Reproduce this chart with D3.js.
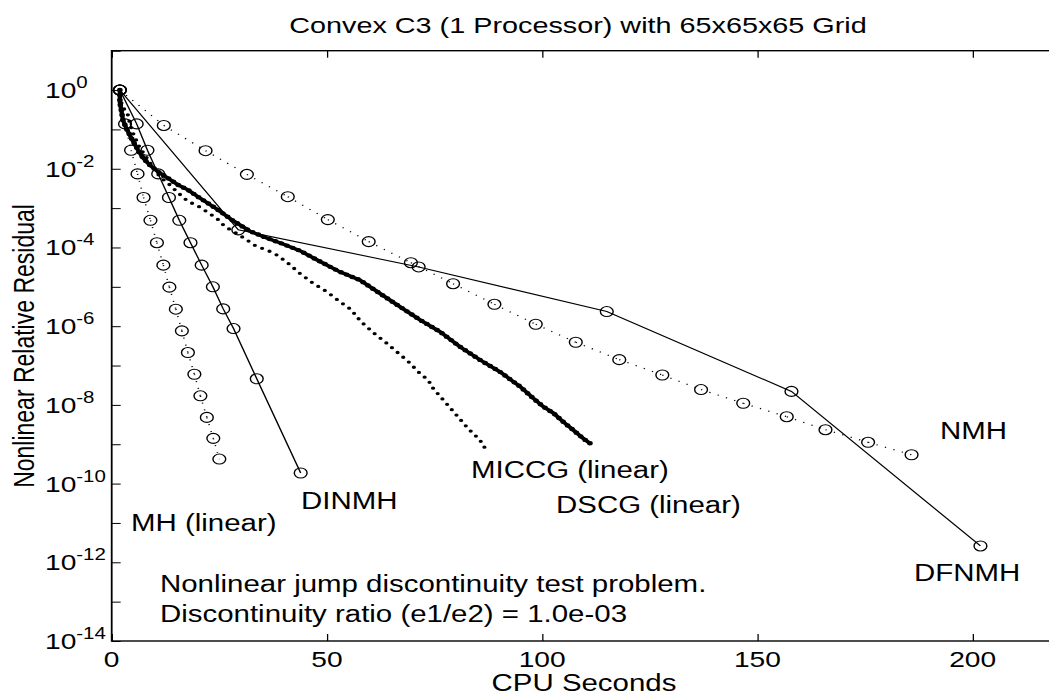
<!DOCTYPE html>
<html lang="en">
<head>
<meta charset="utf-8">
<style>
  body { margin: 0; background: white; }
  svg { display: block; background: white; }
  text { font-family: "Liberation Sans", Arial, Helvetica, sans-serif; fill: black; }
  .frame { fill: none; stroke: black; stroke-width: 1.4px; }
  .tick line { stroke: black; stroke-width: 1px; }
  .mark { fill: none; stroke: black; stroke-width: 1.1px; }
</style>
<script src="https://d3js.org/d3.v7.min.js"></script>
</head>
<body>
<script>
// CPU seconds vs nonlinear relative residual, one pair of arrays per solver
var mhTime  = [1.9, 3.1, 4.5, 6.0, 7.4, 9.0, 10.5, 12.0, 13.4, 14.9, 16.3, 17.7, 19.2, 20.6, 22.1, 23.6, 25.0];
var mhResid = [1, 1.38e-1, 2.95e-2, 7.4e-3, 1.86e-3, 4.9e-4, 1.32e-4, 3.55e-5, 9.8e-6, 2.7e-6, 7.6e-7, 2.14e-7, 6.0e-8, 1.7e-8, 4.8e-9, 1.41e-9, 4.2e-10];

var dinmhTime  = [1.9, 5.8, 8.3, 10.8, 13.3, 15.7, 18.3, 20.9, 23.5, 25.9, 28.3, 33.7, 43.9];
var dinmhResid = [1, 1.38e-1, 2.95e-2, 7.4e-3, 1.86e-3, 4.9e-4, 1.32e-4, 3.55e-5, 1.0e-5, 2.75e-6, 8.7e-7, 4.6e-8, 1.86e-10];

var miccgTime  = [1.9, 1.9, 2.4, 3.8, 4.2, 4.7, 5.3, 6.5, 8.0, 9.5, 11.2, 13.5, 15.5, 17.8, 19.7, 22.1, 24.4, 26.3, 29.0, 31.4, 33.7, 36.0,
                  38.3, 40.7, 43.7, 46.8, 49.9, 53.0, 55.7, 56.9, 58.4, 60.8, 63.5, 66.2, 68.9, 71.6, 73.5, 74.7, 77.4, 80.1, 82.8, 85.5, 86.9];
var miccgResid = [1, 7.1e-1, 4.0e-1, 2.3e-1, 1.45e-1, 9.5e-2, 6.5e-2, 3.5e-2, 2.0e-2, 1.12e-2, 6.3e-3, 3.9e-3, 2.4e-3, 1.45e-3, 1.2e-3, 8.1e-4, 5.5e-4, 3.4e-4, 2.3e-4, 1.55e-4, 1.05e-4, 8.7e-5,
                  6.5e-5, 4.2e-5, 2.2e-5, 1.23e-5, 7.6e-6, 4.2e-6, 2.6e-6, 1.74e-6, 1.17e-6, 6.8e-7, 4.0e-7, 2.24e-7, 1.26e-7, 6.3e-8, 4.3e-8, 2.6e-8, 1.2e-8, 5.5e-9, 2.5e-9, 1.29e-9, 7.4e-10];

var dscgTime  = [1.9, 1.9, 2.3, 2.6, 3.4, 4.2, 5.0, 6.1, 7.3, 8.8, 10.7, 13.1, 15.4, 17.7, 20.3, 24.4, 28.2, 32.1, 36.0, 39.5,
                 43.7, 48.4, 53.0, 57.7, 62.3, 67.0, 71.6, 76.3, 80.9, 85.6, 90.2, 94.9, 97.9, 100.3, 102.6, 104.9, 107.2, 109.5, 111.3];
var dscgResid = [1, 4.8e-1, 2.8e-1, 1.74e-1, 1.07e-1, 7.2e-2, 4.9e-2, 3.0e-2, 1.86e-2, 1.26e-2, 8.5e-3, 5.75e-3, 3.9e-3, 2.9e-3, 1.86e-3, 9.5e-4, 4.8e-4, 2.6e-4, 1.74e-4, 1.26e-4,
                 8.3e-5, 4.4e-5, 2.4e-5, 1.48e-5, 6.8e-6, 3.1e-6, 1.45e-6, 7.2e-7, 3.0e-7, 1.38e-7, 6.9e-8, 2.9e-8, 1.48e-8, 8.9e-9, 6.2e-9, 3.7e-9, 2.3e-9, 1.41e-9, 1.02e-9];

var nmhTime  = [1.9, 12.1, 21.8, 31.4, 40.9, 50.2, 59.7, 69.5, 79.3, 88.9, 98.5, 107.8, 117.9, 127.9, 136.9, 146.7, 156.8, 165.8, 175.7, 185.8];
var nmhResid = [1, 1.26e-1, 2.88e-2, 7.2e-3, 1.95e-3, 5.1e-4, 1.41e-4, 4.1e-5, 1.2e-5, 3.6e-6, 1.12e-6, 3.9e-7, 1.41e-7, 5.75e-8, 2.45e-8, 1.1e-8, 5.0e-9, 2.34e-9, 1.12e-9, 5.4e-10];

var dfnmhTime  = [1.9, 29.4, 71.3, 115.0, 157.9, 201.8];
var dfnmhResid = [1, 2.8e-4, 3.2e-5, 2.35e-6, 2.2e-8, 2.6e-12];

var xTicks = [0, 50, 100, 150, 200];
var yTicks = [1e1, 1e0, 1e-1, 1e-2, 1e-3, 1e-4, 1e-5, 1e-6, 1e-7, 1e-8, 1e-9, 1e-10, 1e-11, 1e-12, 1e-13, 1e-14];
var yLabelVal = [1e0, 1e-2, 1e-4, 1e-6, 1e-8, 1e-10, 1e-12, 1e-14];
var yLabelExp = ["0", "-2", "-4", "-6", "-8", "-10", "-12", "-14"];

var width = 1049,
    height = 696;
var sx = 1.28;   // the figure is stretched sideways, so draw everything in a squeezed frame

var x = d3.scaleLinear().domain([0, 220]).range([111.7 / sx, 1058.8 / sx]);
var y = d3.scaleLog().domain([1e-14, 10]).range([641, 50.7]);

var svg = d3.select("body").append("svg")
    .attr("width", width)
    .attr("height", height);

var g = svg.append("g").attr("transform", "scale(" + sx + ",1)");

// axes, ticks pointing in
function noDomain(a) { a.select(".domain").remove(); }
g.append("g").attr("transform", "translate(0," + y(1e-14) + ")")
    .call(d3.axisBottom(x).tickValues(xTicks).tickSize(-7).tickFormat("")).call(noDomain);
g.append("g").attr("transform", "translate(0," + y(10) + ")")
    .call(d3.axisTop(x).tickValues(xTicks).tickSize(-7).tickFormat("")).call(noDomain);
g.append("g").attr("transform", "translate(" + x(0) + ",0)")
    .call(d3.axisLeft(y).tickValues(yTicks).tickSize(-9 / sx).tickFormat("")).call(noDomain);
g.append("g").attr("transform", "translate(" + x(220) + ",0)")
    .call(d3.axisRight(y).tickValues(yTicks).tickSize(-9 / sx).tickFormat("")).call(noDomain);

g.append("rect").attr("class", "frame")
    .attr("x", x(0)).attr("y", y(10))
    .attr("width", x(220) - x(0))
    .attr("height", y(1e-14) - y(10));

// tick labels
g.selectAll(".xlab").data(xTicks).enter().append("text")
    .attr("class", "xlab")
    .attr("x", function(d) { return x(d); })
    .attr("y", 667)
    .attr("font-size", 22)
    .attr("text-anchor", "middle")
    .text(function(d) { return d; });

g.selectAll(".ylab").data(yLabelVal).enter().append("text")
    .attr("class", "ylab")
    .attr("x", 45 / sx)
    .attr("y", function(d) { return y(d) + 8; })
    .attr("font-size", 22)
    .each(function(d, i) {
        var t = d3.select(this);
        t.append("tspan").text("10");
        t.append("tspan").attr("font-size", 16).attr("dy", -10).text(yLabelExp[i]);
    });

function label(txt, px, py, size, anchor) {
    return g.append("text")
        .attr("x", px / sx).attr("y", py)
        .attr("font-size", size)
        .attr("text-anchor", anchor || "start")
        .text(txt);
}

label("Convex C3 (1 Processor) with 65x65x65 Grid", 578, 33, 22.5, "middle");
label("CPU Seconds", 584, 691, 23, "middle");
g.append("text")
    .attr("transform", "translate(" + (34 / sx) + ",346) rotate(-90)")
    .attr("font-size", 23)
    .attr("text-anchor", "middle")
    .text("Nonlinear Relative Residual");

label("Nonlinear jump discontinuity test problem.", 160, 592, 23);
label("Discontinuity ratio (e1/e2) = 1.0e-03", 160, 622, 23);
label("MH (linear)", 131, 531, 23);
label("DINMH", 301, 509, 23);
label("MICCG (linear)", 471, 478, 23);
label("DSCG (linear)", 556, 513, 23);
label("NMH", 940, 439, 23);
label("DFNMH", 914, 581, 23);

// series
var line = d3.line()
    .x(function(d) { return x(d[0]); })
    .y(function(d) { return y(d[1]); });

function solid(xs, ys) {
    g.append("path").datum(d3.zip(xs, ys))
        .attr("class", "mark")
        .attr("stroke-width", 1)
        .attr("d", line);
}

function dotted(xs, ys) {
    // each segment restarts the pattern so a dot sits in every marker
    g.append("g").selectAll("line")
        .data(d3.pairs(d3.zip(xs, ys)))
        .enter().append("line")
        .attr("x1", function(d) { return x(d[0][0]); })
        .attr("y1", function(d) { return y(d[0][1]); })
        .attr("x2", function(d) { return x(d[1][0]); })
        .attr("y2", function(d) { return y(d[1][1]); })
        .attr("stroke", "black")
        .attr("stroke-width", 1.2)
        .attr("stroke-dasharray", "1 6");
}

function rings(xs, ys) {
    g.append("g").selectAll("circle")
        .data(d3.zip(xs, ys))
        .enter().append("circle")
        .attr("class", "mark")
        .attr("cx", function(d) { return x(d[0]); })
        .attr("cy", function(d) { return y(d[1]); })
        .attr("r", 5);
}

dotted(mhTime, mhResid);
rings(mhTime, mhResid);

solid(dinmhTime, dinmhResid);
rings(dinmhTime, dinmhResid);

dotted(nmhTime, nmhResid);
rings(nmhTime, nmhResid);

solid(dfnmhTime, dfnmhResid);
rings(dfnmhTime, dfnmhResid);

// MICCG: small dots
g.append("path").datum(d3.zip(miccgTime, miccgResid))
    .attr("fill", "none")
    .attr("stroke", "black")
    .attr("stroke-width", 3.3)
    .attr("stroke-linecap", "round")
    .attr("stroke-dasharray", "0 6.5")
    .attr("d", line);

// DSCG: dots so close they make a heavy line
g.append("path").datum(d3.zip(dscgTime, dscgResid))
    .attr("fill", "none")
    .attr("stroke", "black")
    .attr("stroke-width", 3.4)
    .attr("d", line);
g.append("path").datum(d3.zip(dscgTime, dscgResid))
    .attr("fill", "none")
    .attr("stroke", "black")
    .attr("stroke-width", 4.4)
    .attr("stroke-linecap", "round")
    .attr("stroke-dasharray", "0 5")
    .attr("d", line);
</script>
